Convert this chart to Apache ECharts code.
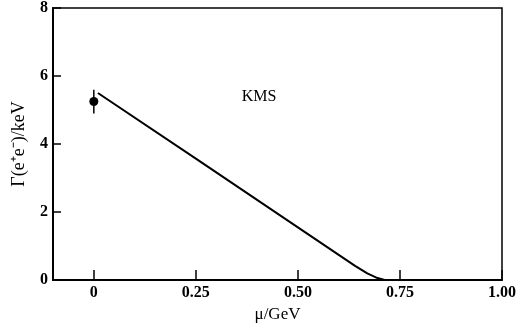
<!DOCTYPE html>
<html><head><meta charset="utf-8">
<script src="https://cdn.jsdelivr.net/npm/echarts@6/dist/echarts.min.js"></script>
<style>html,body{margin:0;padding:0;background:#fff}#c{width:519px;height:328px}</style>
</head><body><div id="c"></div>
<script>
var xTicks = [0, 0.25, 0.5, 0.75, 1.0];
var xTickLabels = ['0', '0.25', '0.50', '0.75', '1.00'];
var yTicks = [0, 2, 4, 6, 8];
var curveKMS = [[0.01, 5.5], [0.25, 3.57], [0.5, 1.55], [0.64, 0.42], [0.67, 0.2], [0.695, 0.06], [0.715, 0]];
var dataPoint = [[0.0, 5.25]];
var dataError = [[0.0, 4.9, 5.6]];
var annotation = {text: 'KMS', x: 0.405, y: 5.4};

var font = 'Liberation Serif';
var chart = echarts.init(document.getElementById('c'));
chart.setOption({
  animation: false,
  grid: {left: 53, right: 5, top: 6, bottom: 45, show: true, borderColor: '#000', borderWidth: 1.5},
  xAxis: {
    type: 'value', min: -0.1, max: 1.0,
    axisLine: {show: true, onZero: false, lineStyle: {color: '#000', width: 2}},
    axisTick: {show: true, inside: true, length: 10, customValues: xTicks, lineStyle: {color: '#000', width: 1.5}},
    axisLabel: {customValues: xTicks, margin: 5, color: '#000', fontFamily: font, fontWeight: 'bold', fontSize: 16,
      formatter: function (v) { var i = xTicks.indexOf(v); return i >= 0 ? xTickLabels[i] : ''; }},
    splitLine: {show: false},
    name: 'μ/GeV', nameLocation: 'middle', nameGap: 24,
    nameTextStyle: {color: '#000', fontFamily: font, fontSize: 17}
  },
  yAxis: {
    type: 'value', min: 0, max: 8, interval: 2,
    axisLine: {show: true, onZero: false, lineStyle: {color: '#000', width: 2}},
    axisTick: {show: true, inside: true, length: 8, lineStyle: {color: '#000', width: 1.5}},
    axisLabel: {margin: 5, color: '#000', fontFamily: font, fontWeight: 'bold', fontSize: 16},
    splitLine: {show: false},
    name: 'Γ(e⁺e⁻)/keV', nameLocation: 'middle', nameGap: 25,
    nameTextStyle: {color: '#000', fontFamily: font, fontSize: 18}
  },
  series: [
    {type: 'line', data: curveKMS, symbol: 'none', smooth: false,
     lineStyle: {color: '#000', width: 2}},
    {type: 'scatter', data: dataPoint, symbol: 'circle', symbolSize: 9,
     itemStyle: {color: '#000', opacity: 1}},
    {type: 'custom', data: dataError,
     renderItem: function (params, api) {
       var p1 = api.coord([api.value(0), api.value(1)]);
       var p2 = api.coord([api.value(0), api.value(2)]);
       return {type: 'line', shape: {x1: p1[0], y1: p1[1], x2: p2[0], y2: p2[1]},
               style: {stroke: '#000', lineWidth: 1.5}};
     }},
    {type: 'scatter', data: [[annotation.x, annotation.y]], symbolSize: 0,
     itemStyle: {opacity: 1},
     label: {show: true, formatter: annotation.text, position: 'inside', color: '#000', fontFamily: font, fontSize: 16}}
  ]
});
</script></body></html>
